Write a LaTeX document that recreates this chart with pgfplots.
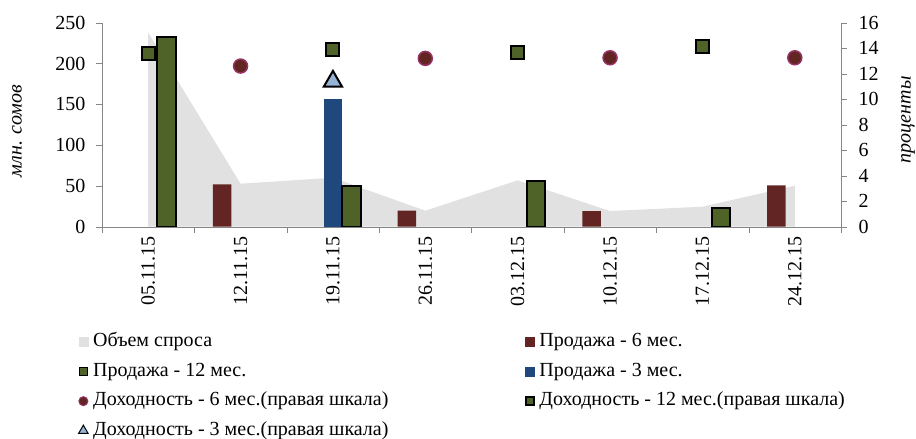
\documentclass[border=0pt]{standalone}
\usepackage{pgfplots}
\pgfplotsset{compat=1.18}
\usepackage{fontspec}
\setmainfont{Liberation Serif}

\definecolor{demand}{HTML}{E1E1E1}
\definecolor{six}{HTML}{632523}
\definecolor{twelve}{HTML}{4F6228}
\definecolor{three}{HTML}{1F497D}
\definecolor{sixedge}{HTML}{953366}
\definecolor{threey}{HTML}{95B3D7}
\definecolor{axisgray}{HTML}{868686}

\pgfplotsset{
    base/.style={
        scale only axis, width=739pt, height=204pt,
        xmin=-0.5, xmax=7.5, ymin=0,
        tick align=outside,
        /pgf/number format/assume math mode=true,
        axis line style={axisgray},
        tick style={axisgray},
        major tick length=6pt, minor tick length=6pt,
        tick label style={font=\fontsize{20}{24}\selectfont},
        label style={font=\fontsize{20}{24}\selectfont\itshape},
    }
}

\begin{document}
\begin{tikzpicture}[font=\fontsize{20}{24}\selectfont]
% frame of the whole picture, as in the reference (axis box at (0,0)-(739pt,204pt))
\useasboundingbox (-102pt,-212.3pt) rectangle (814pt,226.7pt);

% left axis: volumes
\begin{axis}[base,
    ymax=250,
    axis y line*=left, axis x line*=bottom,
    ytick={0,50,...,250},
    yticklabel style={xshift=-7pt},
    xtick={0,...,7},
    xticklabels={05.11.15,12.11.15,19.11.15,26.11.15,03.12.15,10.12.15,17.12.15,24.12.15},
    x tick label style={rotate=90, anchor=east},
    major x tick style={draw=none},
    minor xtick={-0.5,0.5,...,7.5},
    ylabel={млн. сомов},
    ylabel style={at={(axis description cs:-0.115,0.469)}, anchor=center},
]
    \addplot[fill=demand, draw=none] coordinates {
        (0,0) (0,238) (1,52.7) (2,60) (3,19.6) (4,56.8) (5,19.2) (6,24.5) (7,50.2) (7,0)
    } \closedcycle;

    % Продажа - 6 мес.
    \addplot[ybar, bar width=0.2, bar shift=-0.2, fill=six, draw=none] coordinates {
        (1,52) (3,19.6) (5,19) (7,50.5)
    };
    % Продажа - 3 мес.
    \addplot[ybar, bar width=0.2, bar shift=0, fill=three, draw=none] coordinates {
        (2,156)
    };
    % Продажа - 12 мес.
    \addplot[ybar, bar width=0.2, bar shift=0.2, fill=twelve, draw=black, line width=2pt] coordinates {
        (0,232) (2,50) (4,56) (6,23)
    };
\end{axis}

% right axis: yields
\begin{axis}[base,
    ymax=16,
    axis y line*=right, axis x line=none,
    ytick={0,2,...,16},
    yticklabel style={xshift=8pt},
    ylabel={проценты},
    ylabel style={at={(axis description cs:1.0907,0.523)}, anchor=center},
    legend columns=2,
    legend cell align=left,
    legend style={draw=none, fill=none, at={(axis description cs:-0.036,-0.505)}, anchor=north west,
        font=\fontsize{20}{24}\selectfont,
        nodes={inner ysep=1pt, text height=14pt, text depth=4.5pt},
        /tikz/every odd column/.append style={column sep=3pt},
        /tikz/every even column/.append style={column sep=135pt},
        row sep=9pt},
    legend image code/.code={\draw[#1] plot[only marks] coordinates {(0pt,0pt)};},
]
    \addplot[forget plot, only marks, mark=*, mark size=7pt,
        mark options={fill=six, draw=sixedge, line width=1.5pt}] coordinates {
        (1,12.6) (3,13.2) (5,13.25) (7,13.25)
    };
    \addplot[forget plot, only marks, mark=square*, mark size=6.5pt,
        mark options={fill=twelve, draw=black, line width=2pt}] coordinates {
        (0,13.6) (2,13.9) (4,13.65) (6,14.1)
    };
    \addplot[forget plot, only marks, mark=triangle*, mark size=10.5pt,
        mark options={fill=threey, draw=black, line width=2pt}] coordinates {
        (2,11.4)
    };

    \addlegendimage{mark=square*, mark size=4.5pt, mark options={fill=demand, draw=demand}}
    \addlegendentry{Объем спроса}
    \addlegendimage{mark=square*, mark size=4.5pt, mark options={fill=six, draw=six}}
    \addlegendentry{Продажа - 6 мес.}
    \addlegendimage{mark=square*, mark size=4pt, mark options={fill=twelve, draw=black, line width=1.5pt}}
    \addlegendentry{Продажа - 12 мес.}
    \addlegendimage{mark=square*, mark size=4.5pt, mark options={fill=three, draw=three}}
    \addlegendentry{Продажа - 3 мес.}
    \addlegendimage{mark=*, mark size=4.5pt, mark options={fill=six, draw=sixedge, line width=1pt}}
    \addlegendentry{Доходность - 6 мес.(правая шкала)}
    \addlegendimage{mark=square*, mark size=4pt, mark options={fill=twelve, draw=black, line width=1.5pt}}
    \addlegendentry{Доходность - 12 мес.(правая шкала)}
    \addlegendimage{mark=triangle*, mark size=5.5pt, mark options={fill=threey, draw=black, line width=1pt}}
    \addlegendentry{Доходность - 3 мес.(правая шкала)}
\end{axis}
\end{tikzpicture}
\end{document}
